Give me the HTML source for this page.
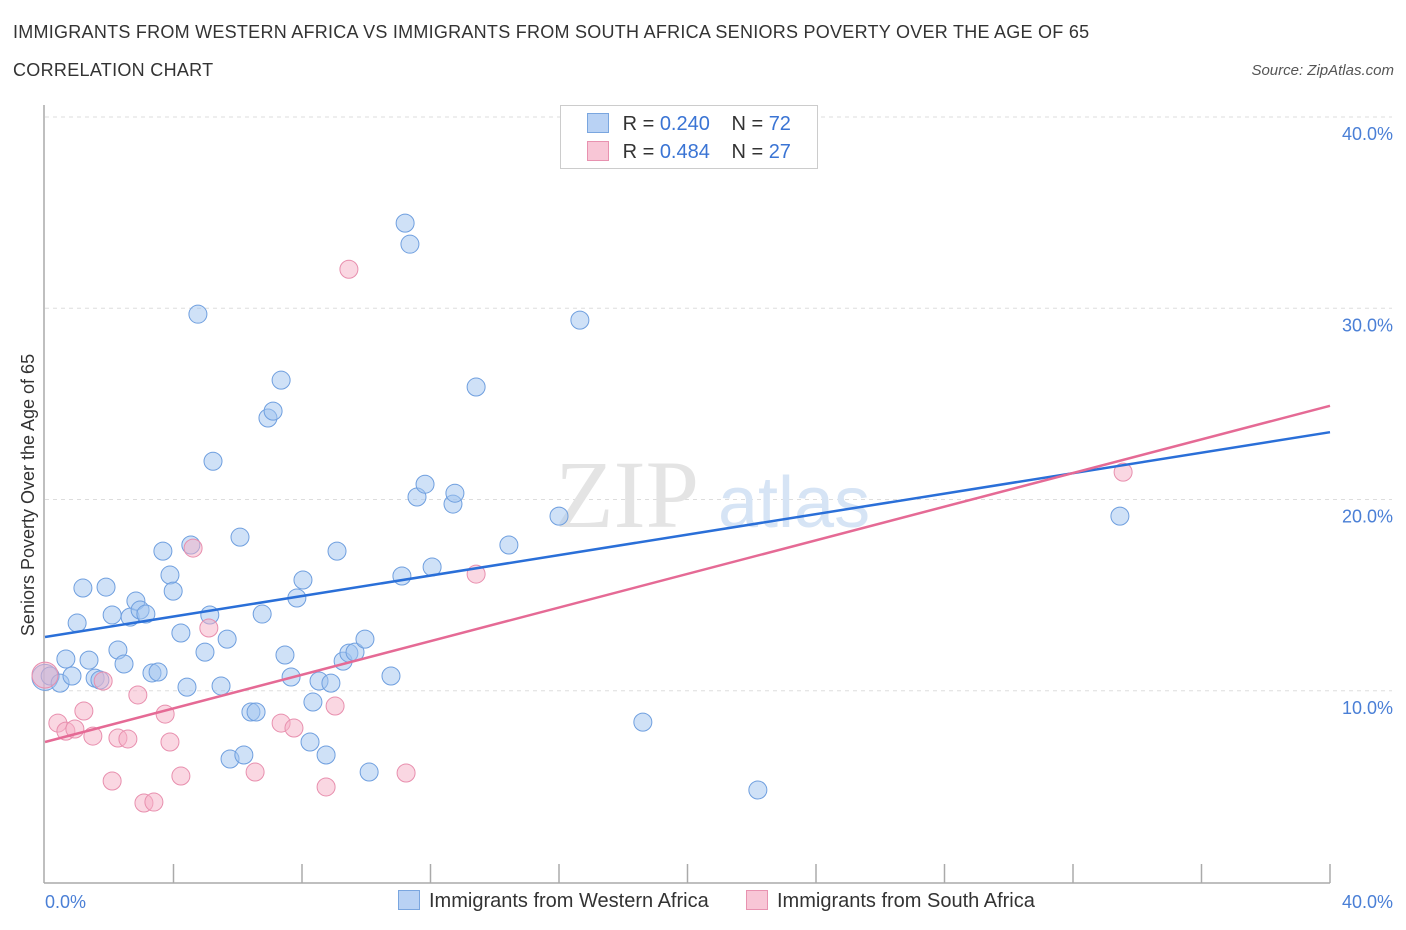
<!DOCTYPE html>
<html><head><meta charset="utf-8">
<style>
body{margin:0;background:#fff;font-family:"Liberation Sans",sans-serif;}
#wrap{position:relative;width:1406px;height:930px;overflow:hidden;}
.t{position:absolute;white-space:nowrap;}
</style></head>
<body>
<div id="wrap">
<div class="t" style="left:13px;top:22px;font-size:18px;color:#333;letter-spacing:0.26px;">IMMIGRANTS FROM WESTERN AFRICA VS IMMIGRANTS FROM SOUTH AFRICA SENIORS POVERTY OVER THE AGE OF 65</div>
<div class="t" style="left:13px;top:60px;font-size:18px;color:#333;letter-spacing:0.3px;">CORRELATION CHART</div>
<div class="t" style="right:12px;top:62px;font-size:15px;color:#555;font-style:italic;">Source: ZipAtlas.com</div>
<svg id="chart" width="1406" height="930" style="position:absolute;left:0;top:0"></svg>
</div>
<script>
const xTickVals=[0,40];
const yTickVals=[10,20,30,40];
const blueX=[0.0,0.16,0.47,0.65,0.84,1.0,1.18,1.37,1.56,1.71,1.9,2.09,2.27,2.46,2.65,2.83,2.96,3.14,3.33,3.52,3.67,3.89,3.99,4.23,4.42,4.54,4.76,4.98,5.13,5.23,5.48,5.67,5.76,6.07,6.19,6.41,6.57,6.76,6.94,7.1,7.35,7.47,7.66,7.84,8.03,8.25,8.34,8.53,8.75,8.9,9.09,9.28,9.46,9.65,9.96,10.09,10.77,11.11,11.21,11.36,11.58,11.83,12.05,12.7,12.76,13.42,14.44,16.0,16.65,18.61,22.19,33.46];
const blueY=[10.7,10.77,10.4,11.66,10.77,13.54,15.37,11.6,10.66,10.56,15.42,13.96,12.13,11.4,13.85,14.69,14.22,14.01,10.93,10.98,17.3,16.05,15.21,13.02,10.19,17.62,29.69,12.02,13.96,22.0,10.25,12.7,6.43,18.03,6.64,8.89,8.89,14.01,24.26,24.62,26.24,11.87,10.72,14.85,15.79,7.32,9.41,10.51,6.64,10.4,17.3,11.55,11.97,12.02,12.7,5.75,10.77,16.0,34.45,33.35,20.13,20.8,16.47,19.76,20.33,25.88,17.62,19.13,29.38,8.36,4.81,19.13];
const pinkX=[0.0,0.4,0.65,0.93,1.21,1.49,1.81,2.09,2.27,2.58,2.89,3.08,3.39,3.74,3.89,4.23,4.61,5.1,6.54,7.35,7.75,8.75,9.03,9.46,11.24,13.42,33.56];
const pinkY=[10.82,8.31,7.89,8.0,8.94,7.63,10.51,5.28,7.53,7.48,9.78,4.13,4.18,8.78,7.32,5.54,17.46,13.28,5.75,8.31,8.05,4.97,9.2,32.04,5.7,16.1,21.43];
const blueTrend=[12.81,23.52];
const pinkTrend=[7.32,24.9];
const NS="http://www.w3.org/2000/svg";
const svg=document.getElementById('chart');
const X0=45,X1=1330,Y0=882,Y1=117;
function sx(v){return X0+(X1-X0)*v/40;}
function sy(v){return Y0-(Y0-Y1)*v/40;}
function mk(tag,attrs){const e=document.createElementNS(NS,tag);for(const k in attrs)e.setAttribute(k,attrs[k]);svg.appendChild(e);return e;}
yTickVals.forEach(v=>{
 const g=mk('line',{x1:X0,x2:1392,y1:sy(v),y2:sy(v),stroke:'#ddd','stroke-dasharray':'4,4'});
 
 
 const t=mk('text',{x:1393,y:sy(v)+23,'text-anchor':'end','font-size':18,fill:'#4a7fd6','font-family':'Liberation Sans, sans-serif'});
 t.textContent=v.toFixed(1)+'%';
 
 
});
const ax=mk('line',{x1:X0-1,x2:X0-1,y1:105,y2:Y0+1,stroke:'#aaa','stroke-width':1.5});


const bx=mk('line',{x1:X0-1,x2:X1,y1:Y0+1,y2:Y0+1,stroke:'#aaa','stroke-width':1.5});


for(let i=1;i<=10;i++){
 const tk=mk('line',{x1:sx(i*4),x2:sx(i*4),y1:Y0-18,y2:Y0+1,stroke:'#aaa','stroke-width':1.5});
 
 
}
xTickVals.forEach((v,i)=>{
 const t=mk('text',{x:i==0?45:1393,y:908,'text-anchor':i==0?'start':'end','font-size':18,fill:'#4a7fd6','font-family':'Liberation Sans, sans-serif'});
 t.textContent=v.toFixed(1)+'%';
 
 
});
const wm=mk('text',{x:555,y:527,'font-size':96,fill:'#e4e4e4','font-family':'Liberation Serif, serif'});
wm.textContent='ZIP';


const wm2=mk('text',{x:718,y:527,'font-size':72,fill:'#d6e4f5','font-family':'Liberation Sans, sans-serif'});
wm2.textContent='atlas';


function drawPts(xs,ys,fill,stroke,name){
 xs.forEach((x,i)=>{
  const c=mk('circle',{cx:sx(x),cy:sy(ys[i]),r:i==0?13:9,fill:fill,stroke:stroke,'stroke-width':1});
  
  
 });
}
drawPts(blueX,blueY,'rgba(160,195,240,0.5)','#6f9fdf','point-western-africa');
drawPts(pinkX,pinkY,'rgba(245,175,198,0.5)','#e88fae','point-south-africa');
const bl=mk('line',{x1:sx(0),y1:sy(blueTrend[0]),x2:sx(40),y2:sy(blueTrend[1]),stroke:'#2a6fd8','stroke-width':2.5});


const pl=mk('line',{x1:sx(0),y1:sy(pinkTrend[0]),x2:sx(40),y2:sy(pinkTrend[1]),stroke:'#e56a95','stroke-width':2.5});


const yt=mk('text',{x:0,y:0,transform:'translate(34,495) rotate(-90)','text-anchor':'middle','font-size':18,fill:'#333','font-family':'Liberation Sans, sans-serif'});
yt.textContent='Seniors Poverty Over the Age of 65';


</script>
<div class="t" style="left:560px;top:105px;width:256px;height:62px;border:1px solid #ccc;background:#fff;font-size:20px;">
 <div style="position:absolute;left:26px;top:7px;">
  <span style="display:inline-block;width:20px;height:18px;background:#b9d2f4;border:1px solid #7aa6df;vertical-align:-3px;"></span>
  <span style="color:#333;margin-left:8px;">R = </span><span style="color:#3a74d4;">0.240</span>
  <span style="color:#333;margin-left:16px;">N = </span><span style="color:#3a74d4;">72</span></div>
 <div style="position:absolute;left:26px;top:35px;">
  <span style="display:inline-block;width:20px;height:18px;background:#f8c6d6;border:1px solid #e892b0;vertical-align:-3px;"></span>
  <span style="color:#333;margin-left:8px;">R = </span><span style="color:#3a74d4;">0.484</span>
  <span style="color:#333;margin-left:16px;">N = </span><span style="color:#3a74d4;">27</span></div>
</div>
<div class="t" style="left:398px;top:890px;font-size:20px;color:#333;">
 <span style="display:inline-block;width:20px;height:18px;background:#b9d2f4;border:1px solid #7aa6df;vertical-align:-3px;margin-right:9px;"></span>Immigrants from Western Africa</div>
<div class="t" style="left:746px;top:890px;font-size:20px;color:#333;">
 <span style="display:inline-block;width:20px;height:18px;background:#f8c6d6;border:1px solid #e892b0;vertical-align:-3px;margin-right:9px;"></span>Immigrants from South Africa</div>
</body></html>
